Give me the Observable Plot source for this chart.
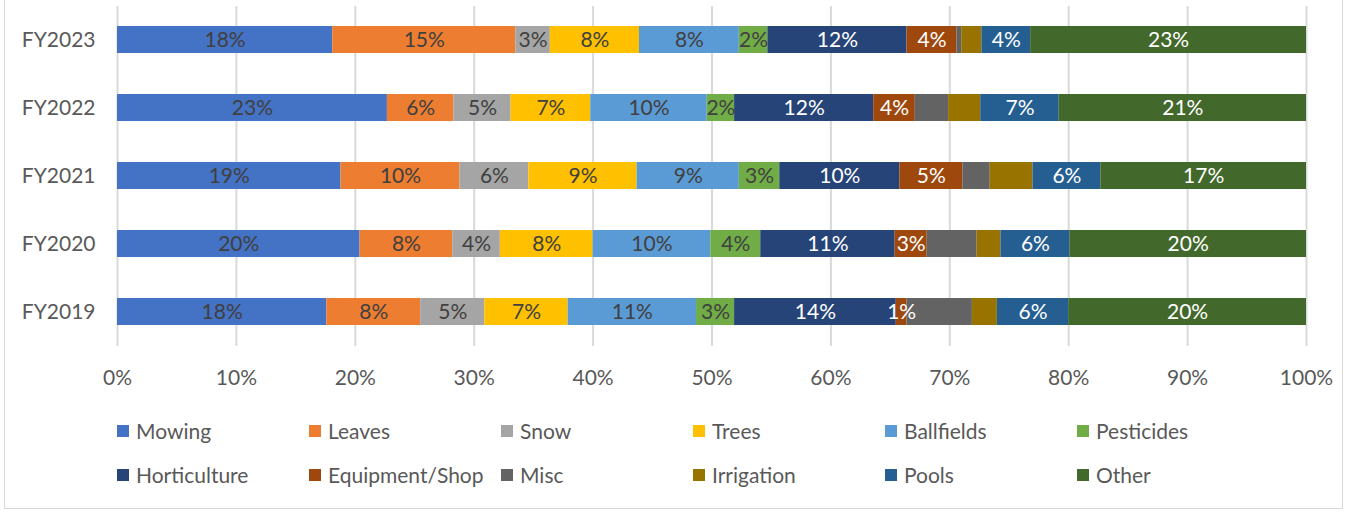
<!DOCTYPE html>
<html><head><meta charset="utf-8">
<script src="https://cdn.jsdelivr.net/npm/d3@7"></script>
<script src="https://cdn.jsdelivr.net/npm/@observablehq/plot@0.6"></script>
<style>
body{margin:0;background:#fff;font-family:Lato, sans-serif;}
#wrap{position:relative;width:1348px;height:512px;overflow:hidden;}
#frame{position:absolute;left:4px;top:-1px;width:1339px;height:510px;border:1px solid #d9d9d9;box-sizing:border-box;}
#chart{position:absolute;left:0;top:0;}
#legend{position:absolute;left:0;top:0;}
.item{position:absolute;display:flex;align-items:center;font-size:21px;line-height:26px;color:#595959;white-space:nowrap;}
.sw{width:12px;height:12px;margin-right:7px;flex:none;}
</style></head>
<body>
<div id="wrap"><div id="frame"></div><div id="chart"></div><div id="legend"></div></div>
<script>
const years = ["FY2019","FY2020","FY2021","FY2022","FY2023"];
const yearOrder = ["FY2023","FY2022","FY2021","FY2020","FY2019"];
const categories = ["Mowing","Leaves","Snow","Trees","Ballfields","Pesticides","Horticulture","Equipment/Shop","Misc","Irrigation","Pools","Other"];
const colors = ["#4472C4","#ED7D31","#A5A5A5","#FFC000","#5B9BD5","#70AD47","#264478","#9E480E","#636363","#997300","#255E91","#43682B"];
// values in percent, per category, in the order of `years`
const mowing       = [17.6, 20.4, 18.8, 22.7, 18.1];
const leaves       = [ 7.9,  7.8, 10.0,  5.6, 15.4];
const snow         = [ 5.4,  4.0,  5.8,  4.8,  2.9];
const trees        = [ 7.0,  7.8,  9.1,  6.7,  7.5];
const ballfields   = [10.8,  9.9,  8.6,  9.8,  8.4];
const pesticides   = [ 3.2,  4.2,  3.4,  2.3,  2.4];
const horticulture = [13.6, 11.3, 10.1, 11.7, 11.7];
const equipment    = [ 0.9,  2.7,  5.3,  3.5,  4.2];
const misc         = [ 5.5,  4.2,  2.3,  2.8,  0.4];
const irrigation   = [ 2.1,  2.0,  3.6,  2.7,  1.7];
const pools        = [ 6.0,  5.8,  5.7,  6.6,  4.1];
const other        = [20.0, 19.9, 17.3, 20.8, 23.2];
const xTicks = [0, 0.1, 0.2, 0.3, 0.4, 0.5, 0.6, 0.7, 0.8, 0.9, 1];

const series = [mowing, leaves, snow, trees, ballfields, pesticides, horticulture, equipment, misc, irrigation, pools, other];
const darkLabel = new Set(["Horticulture","Equipment/Shop","Pools","Other"]);
const noLabel = new Set(["Misc","Irrigation"]);
const data = [];
years.forEach((y, i) => categories.forEach((c, j) => data.push({year: y, cat: c, value: series[j][i]})));
const lbl = d => Math.round(d.value) + "%";

const chart = Plot.plot({
  width: 1348, height: 400,
  marginLeft: 117, marginRight: 42, marginTop: 6, marginBottom: 54,
  style: {fontFamily: "Lato, sans-serif", fontSize: "21px", color: "#595959", background: "transparent"},
  x: {domain: [0, 1], ticks: xTicks, tickFormat: d3.format(".0%"), tickSize: 0, tickPadding: 24, label: null},
  y: {domain: yearOrder, paddingInner: 0.6, paddingOuter: 0.3, tickSize: 0, tickPadding: 22, label: null},
  color: {domain: categories, range: colors},
  marks: [
    Plot.ruleX(xTicks, {stroke: "#d9d9d9", strokeWidth: 2}),
    Plot.barX(data, Plot.stackX({offset: "normalize", x: "value", y: "year", fill: "cat"})),
    Plot.text(data, Plot.stackX({offset: "normalize", x: "value", y: "year",
      text: d => (noLabel.has(d.cat) || darkLabel.has(d.cat)) ? null : lbl(d), fill: "#404040"})),
    Plot.text(data, Plot.stackX({offset: "normalize", x: "value", y: "year",
      text: d => darkLabel.has(d.cat) ? lbl(d) : null, fill: "white"}))
  ]
});
document.getElementById("chart").appendChild(chart);

const legend = document.getElementById("legend");
categories.forEach((c, i) => {
  const row = Math.floor(i / 6), col = i % 6;
  const el = document.createElement("div");
  el.className = "item";
  el.style.left = (117 + col * 192) + "px";
  el.style.top = (431 + row * 44 - 13) + "px";
  el.innerHTML = `<span class="sw" style="background:${colors[i]}"></span><span></span>`;
  el.lastChild.textContent = c;
  legend.appendChild(el);
});
</script>
</body></html>
